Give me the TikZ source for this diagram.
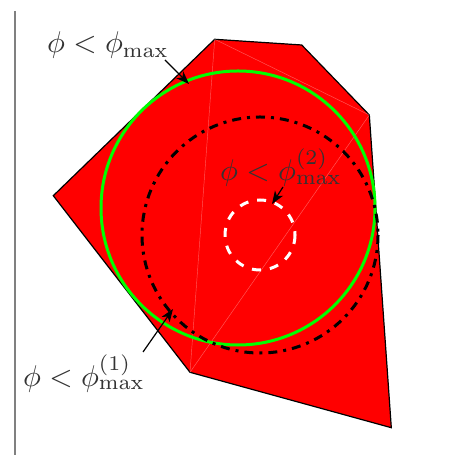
\documentclass[tikz,border=0pt]{standalone}
\usetikzlibrary{arrows.meta}
\begin{document}
\begin{tikzpicture}[x=0.3333pt,y=-0.3333pt,
  lbl/.style={text=black!80,anchor=base,inner sep=0pt},
  ptr/.style={-{Stealth[length=4.3pt,width=3.2pt,inset=1.2pt]},black,line width=0.4pt},
  tri/.style={white,opacity=0.35,line width=0.15pt}]
\useasboundingbox (0,0) rectangle (460,455);
\draw[gray,line width=0.5pt] (15,11) -- (15,455);
% polygon
\coordinate (A) at (53.3,195.7);
\coordinate (B) at (214.7,39.3);
\coordinate (C) at (301.7,45);
\coordinate (D) at (369.3,115);
\coordinate (E) at (391.3,427.7);
\coordinate (F) at (190,372.3);
\filldraw[fill=red,draw=black,line width=0.4pt] (A) -- (B) -- (C) -- (D) -- (E) -- (F) -- cycle;
\draw[tri] (B) -- (F);
\draw[tri] (B) -- (D);
\draw[tri] (D) -- (F);
% circles
\draw[green,line width=1pt] (238,208) circle[radius=137];
\draw[black,line width=1pt,dash dot] (260,235) circle[radius=118];
\draw[white,line width=1pt,dashed] (260,235) circle[radius=35];
% labels
\node[lbl] (l1) at (108,53) {$\phi<\phi_{\max}$};
\node[lbl] (l2) at (281,180.5) {$\phi<\phi^{(2)}_{\max}$};
\node[lbl] (l3) at (84,386) {$\phi<\phi^{(1)}_{\max}$};
\coordinate (s1) at (165,60);
\coordinate (t1) at (189,84);
\coordinate (s2) at (283,187);
\coordinate (t2) at (272,204);
\coordinate (s3) at (143,352);
\coordinate (t3) at (173,309);
\draw[ptr] (s1) -- (t1);
\draw[ptr] (s2) -- (t2);
\draw[ptr] (s3) -- (t3);
\end{tikzpicture}
\end{document}
